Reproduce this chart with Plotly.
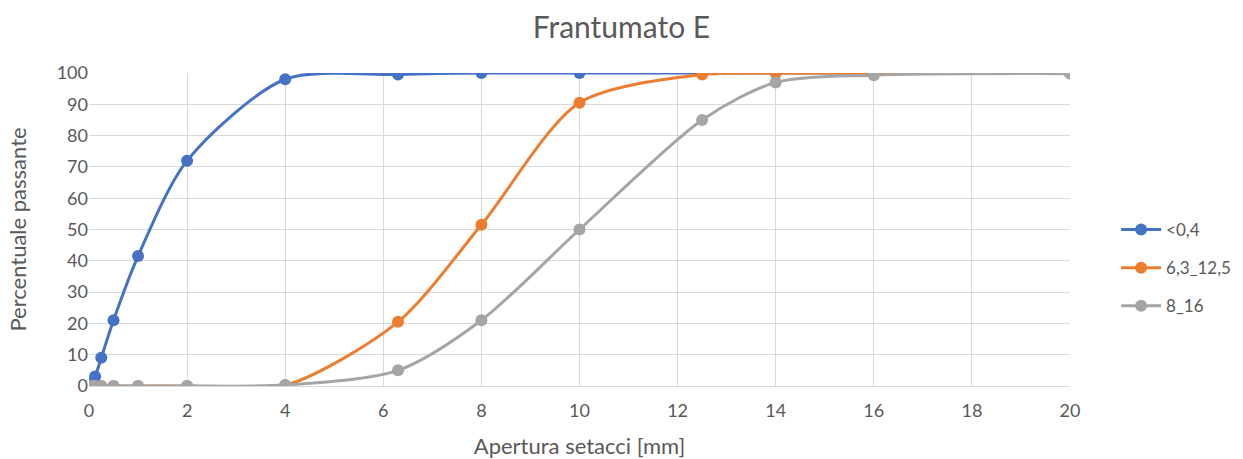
import plotly.graph_objects as go

# Sieve openings [mm]
aperture = [0.063, 0.125, 0.25, 0.5, 1, 2, 4, 6.3, 8, 10, 12.5, 14, 16, 20]

# Percent passing for each aggregate fraction
passante_04 = [1.0, 3.0, 9.0, 21.0, 41.5, 72.0, 98.0, 99.5, 100, 100, 100, 100, 100, 100]
passante_63_125 = [0, 0, 0, 0, 0, 0, 0.2, 20.5, 51.5, 90.5, 99.5, 100, 100, 100]
passante_8_16 = [0, 0, 0, 0, 0, 0, 0.3, 5.0, 21.0, 50.0, 85.0, 97.0, 99.3, 99.8]

serie = [
    ("<0,4", passante_04, "#4472C4"),
    ("6,3_12,5", passante_63_125, "#ED7D31"),
    ("8_16", passante_8_16, "#A5A5A5"),
]

FONT = "Lato, 'Open Sans', sans-serif"
TXT = "#595959"
GRID = "#D9D9D9"

fig = go.Figure()
for i, (nome, valori, colore) in enumerate(serie):
    fig.add_trace(go.Scatter(
        x=aperture, y=valori, name=nome, mode="lines+markers",
        line=dict(color=colore, width=3, shape="spline", smoothing=0.8),
        marker=dict(color=colore, size=12),
        legendgroup=f"g{i}",
    ))

fig.update_layout(
    width=1243, height=459,
    margin=dict(l=89, r=173, t=73, b=73, autoexpand=False),
    paper_bgcolor="white", plot_bgcolor="white",
    font=dict(family=FONT, size=17, color=TXT),
    title=dict(text="Frantumato E", x=0.5, xref="container", xanchor="center",
               y=0.94, yanchor="middle",
               font=dict(family=FONT, size=30, color=TXT)),
    legend=dict(x=1.047, y=0.377, yanchor="middle", xanchor="left",
                font=dict(family=FONT, size=17, color=TXT),
                tracegroupgap=13, itemwidth=40),
    showlegend=True,
)
fig.update_xaxes(
    range=[0, 20], dtick=2, tick0=0, showgrid=True, gridcolor=GRID, gridwidth=1,
    zeroline=False, showline=True, linecolor=GRID, linewidth=1,
    ticks="", tickfont=dict(size=18, color=TXT), ticklabelstandoff=8,
    automargin=False,
    title=dict(text="Apertura setacci [mm]", font=dict(size=22, color=TXT), standoff=30),
)
fig.update_yaxes(
    range=[0, 100], dtick=10, tick0=0, showgrid=True, gridcolor=GRID, gridwidth=1,
    zeroline=False, showline=False, ticks="", tickfont=dict(size=18, color=TXT),
    automargin=False,
    title=dict(text="Percentuale passante", font=dict(size=22, color=TXT), standoff=23),
)

fig.write_html("out.html")
